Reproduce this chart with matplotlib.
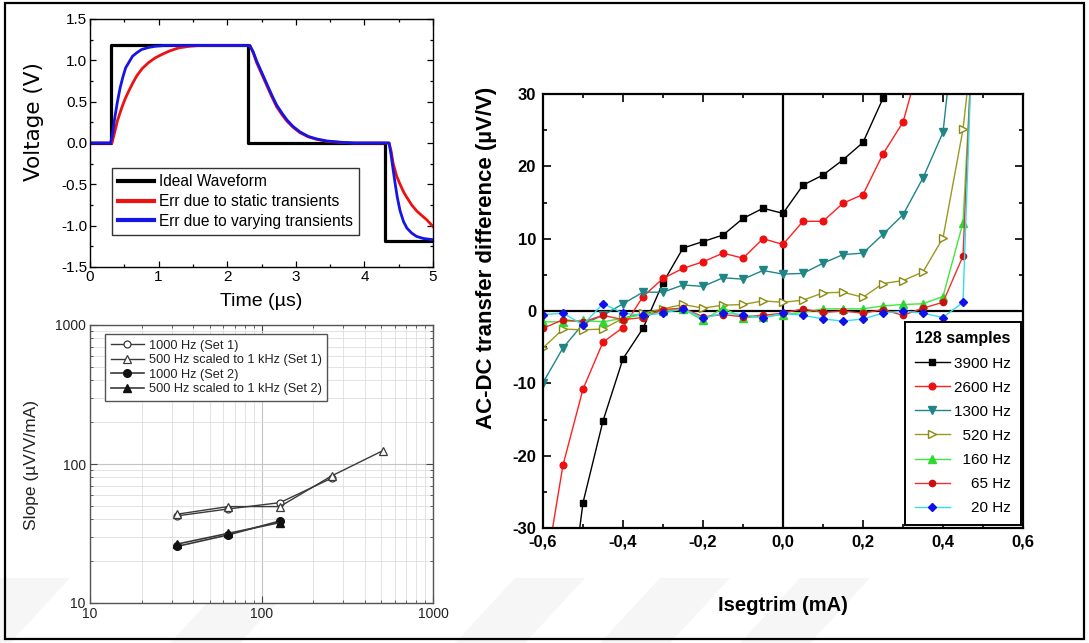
import numpy as np
import matplotlib
matplotlib.use("Agg")
import matplotlib.pyplot as plt
from matplotlib.ticker import MultipleLocator, FuncFormatter, NullFormatter
from matplotlib.patches import Rectangle, Polygon

plt.rcParams["axes.unicode_minus"] = False
SANS = "Liberation Sans"
plt.rcParams["font.family"] = [SANS, "DejaVu Sans"]

nan = np.nan

# ---------------- waveform panel data (time in us, voltage in V) ----------------
ideal_t = [0.0, 0.30, 0.30, 2.30, 2.30, 4.30, 4.30, 5.0]
ideal_v = [0.0, 0.0, 1.18, 1.18, 0.0, 0.0, -1.18, -1.18]

static_t = [0.0, 0.32, 0.36, 0.40, 0.46, 0.51, 0.56, 0.62, 0.68, 0.76, 0.85, 0.95,
            1.045, 1.15, 1.29, 1.45, 1.60, 2.33, 2.38, 2.43, 2.50, 2.58, 2.65, 2.72,
            2.80, 2.87, 2.96, 3.06, 3.18, 3.30, 3.45, 3.64, 3.85, 4.36, 4.39, 4.42,
            4.47, 4.52, 4.57, 4.62, 4.69, 4.76, 4.84, 4.91, 5.0]
static_v = [0.0, 0.0, 0.13, 0.27, 0.42, 0.53, 0.62, 0.72, 0.81, 0.90, 0.97, 1.03,
            1.07, 1.11, 1.15, 1.17, 1.18, 1.18, 1.09, 0.97, 0.84, 0.69, 0.56, 0.44,
            0.34, 0.265, 0.19, 0.125, 0.075, 0.045, 0.02, 0.008, 0.0, 0.0, -0.10, -0.25,
            -0.40, -0.50, -0.59, -0.66, -0.75, -0.82, -0.88, -0.93, -1.01]

varying_t = [0.0, 0.30, 0.33, 0.36, 0.40, 0.44, 0.48, 0.52, 0.57, 0.62, 0.68, 0.75,
             0.85, 0.95, 1.10, 2.33, 2.38, 2.43, 2.50, 2.58, 2.65, 2.72, 2.80, 2.87,
             2.96, 3.06, 3.18, 3.30, 3.45, 3.64, 3.85, 4.36, 4.39, 4.42, 4.45, 4.48,
             4.52, 4.57, 4.62, 4.69, 4.76, 4.86, 5.0]
varying_v = [0.0, 0.0, 0.12, 0.30, 0.50, 0.67, 0.80, 0.91, 0.98, 1.05, 1.09, 1.13,
             1.155, 1.17, 1.18, 1.18, 1.10, 0.99, 0.86, 0.71, 0.58, 0.46, 0.36, 0.28,
             0.20, 0.135, 0.08, 0.05, 0.025, 0.01, 0.0, 0.0, -0.15, -0.33, -0.50, -0.66,
             -0.82, -0.95, -1.03, -1.09, -1.13, -1.155, -1.17]

# ---------------- slope panel data ----------------
freq_1000_set1 = [32, 64, 128, 256]
slope_1000_set1 = [42.3, 47.5, 52.7, 79.0]
freq_500_set1 = [32, 64, 128, 256, 512]
slope_500_set1 = [43.5, 49.4, 49.4, 82.0, 125.0]
freq_set2 = [32, 64, 128]
slope_1000_set2 = [25.5, 30.9, 38.9]
slope_500_set2 = [26.5, 31.7, 37.9]

# ---------------- AC-DC transfer difference data ----------------
isegtrim = [-0.60, -0.55, -0.50, -0.45, -0.40, -0.35, -0.30, -0.25, -0.20, -0.15, -0.10,
            -0.05, 0.00, 0.05, 0.10, 0.15, 0.20, 0.25, 0.30, 0.35, 0.40, 0.45, 0.50]
d3900 = [nan, -48.0, -26.5, -15.2, -6.6, -2.4, 3.9, 8.7, 9.6, 10.5, 12.8, 14.2, 13.5,
         17.4, 18.8, 20.9, 23.3, 29.4, 40.0, nan, nan, nan, nan]
d2600 = [-38.0, -21.3, -10.8, -4.3, -2.3, 2.0, 4.5, 5.9, 6.8, 8.0, 7.3, 10.0, 9.2,
         12.4, 12.4, 14.9, 16.1, 21.7, 26.1, 36.0, nan, nan, nan]
d1300 = [-9.9, -5.1, -1.8, -0.6, 1.0, 2.6, 2.6, 3.6, 3.4, 4.6, 4.4, 5.6, 5.1,
         5.2, 6.6, 7.8, 8.0, 10.6, 13.3, 18.4, 24.7, 50.0, nan]
d520 = [-5.1, -2.5, -2.6, -2.5, -1.0, -0.3, 0.3, 0.9, 0.4, 0.8, 0.9, 1.4, 1.2,
        1.5, 2.5, 2.6, 1.9, 3.8, 4.2, 5.4, 10.1, 25.1, 50.0]
d160 = [-1.5, -1.5, -1.3, -1.5, -1.0, -0.5, 0.0, 0.3, -1.3, 0.4, -0.9, -0.8, -0.5,
        -0.2, 0.3, 0.3, 0.3, 0.7, 0.9, 1.0, 2.0, 12.2, 65.0]
d65 = [-2.4, -1.2, -1.5, -0.6, -1.2, -0.9, 0.2, 0.4, -0.8, -0.5, -0.8, -0.6, -0.3,
       0.3, -0.2, 0.0, -0.3, 0.2, -0.6, 0.4, 1.2, 7.6, 73.0]
d20 = [-0.5, -0.3, -1.9, 1.0, -0.3, -0.6, -0.3, 0.3, -1.0, -0.3, -0.5, -1.0, -0.3,
       -0.6, -1.1, -1.4, -1.1, -0.3, 0.0, -0.3, -0.9, 1.2, 80.0]
freq_labels = ["3900 Hz", "2600 Hz", "1300 Hz", "520 Hz", "160 Hz", "65 Hz", "20 Hz"]

W, H = 1089, 643
fig = plt.figure(figsize=(W / 100, H / 100), dpi=100)
fig.patch.set_facecolor("white")


def px_box(left, top, right, bottom):
    return [left / W, 1 - bottom / H, (right - left) / W, (bottom - top) / H]


# faint diagonal bands along the bottom edge, kept behind everything else
bg = fig.add_axes([0, 0, 1, 1], zorder=-5)
bg.set_axis_off()
bg.set_xlim(0, W)
bg.set_ylim(H, 0)
for x0 in [-60, 170, 455, 600, 740]:
    pts = [(x0, 643), (x0 + 70, 643), (x0 + 130, 578), (x0 + 60, 578)]
    bg.add_patch(Polygon(pts, closed=True, facecolor="#f6f6f6", edgecolor="none"))
bg.add_patch(Rectangle((5, 3), 1079, 636, fill=False, edgecolor="black", lw=1.6))

# ================= waveform panel =================
ax1 = fig.add_axes(px_box(90, 19, 433, 267))
ax1.plot(ideal_t, ideal_v, color="black", lw=2.3, label="Ideal Waveform")
ax1.plot(static_t, static_v, color="#ee1111", lw=2.0, label="Err due to static transients")
ax1.plot(varying_t, varying_v, color="#1515e6", lw=2.0, label="Err due to varying transients")
ax1.set_xlim(0, 5)
ax1.set_ylim(-1.5, 1.5)
ax1.xaxis.set_major_locator(MultipleLocator(1))
ax1.xaxis.set_minor_locator(MultipleLocator(0.5))
ax1.yaxis.set_major_locator(MultipleLocator(0.5))
ax1.yaxis.set_minor_locator(MultipleLocator(0.25))
ax1.yaxis.set_major_formatter(FuncFormatter(lambda v, p: f"{v:.1f}"))
ax1.tick_params(which="both", direction="in", top=True, right=True, width=0.9)
ax1.tick_params(which="major", length=4, labelsize=11, pad=2)
ax1.tick_params(which="minor", length=2)
for s in ax1.spines.values():
    s.set_linewidth(1.0)
ax1.set_xlabel("Time (µs)", fontsize=14)
ax1.xaxis.set_label_coords(0.5, -0.105)
ax1.set_ylabel("Voltage (V)", family="DejaVu Sans", fontsize=15.5)
ax1.yaxis.set_label_coords(-0.135, 0.585)
leg1 = ax1.legend(loc="lower left", bbox_to_anchor=(0.064, 0.129), borderaxespad=0,
                  fontsize=11.2, frameon=True, fancybox=False,
                  edgecolor="#333333", framealpha=1, handlelength=2.3, handletextpad=0.3,
                  labelspacing=0.3, borderpad=0.4)
leg1.get_frame().set_linewidth(1.0)
for ln in leg1.get_lines():
    ln.set_linewidth(3.0)

# ================= slope panel =================
ax2 = fig.add_axes(px_box(90, 325, 433, 603))
ax2.set_xscale("log")
ax2.set_yscale("log")
ax2.set_xlim(10, 1000)
ax2.set_ylim(10, 1000)
ax2.grid(True, which="major", color="#c4c4c4", lw=0.8)
ax2.grid(True, which="minor", color="#dedede", lw=0.6)
ax2.set_axisbelow(True)
gcol = "#3a3a3a"
ax2.plot(freq_1000_set1, slope_1000_set1, "-o", color=gcol, lw=1.0, ms=5,
         mfc="white", mec=gcol, mew=0.9, label="1000 Hz (Set 1)")
ax2.plot(freq_500_set1, slope_500_set1, "-^", color=gcol, lw=1.0, ms=6,
         mfc="white", mec=gcol, mew=0.9, label="500 Hz scaled to 1 kHz (Set 1)")
ax2.plot(freq_set2, slope_1000_set2, "-o", color=gcol, lw=1.2, ms=5.5,
         mfc="#111111", mec="#111111", label="1000 Hz (Set 2)")
ax2.plot(freq_set2, slope_500_set2, "-^", color=gcol, lw=1.2, ms=5.5,
         mfc="#111111", mec="#111111", label="500 Hz scaled to 1 kHz (Set 2)")
ax2.xaxis.set_major_formatter(FuncFormatter(lambda v, p: f"{v:.0f}"))
ax2.yaxis.set_major_formatter(FuncFormatter(lambda v, p: f"{v:.0f}"))
ax2.xaxis.set_minor_formatter(NullFormatter())
ax2.yaxis.set_minor_formatter(NullFormatter())
ax2.tick_params(which="both", direction="in", top=True, right=True, colors="#444444",
                labelcolor="#222222")
ax2.tick_params(which="major", length=5, labelsize=10, pad=3)
ax2.tick_params(which="minor", length=2.5)
for s in ax2.spines.values():
    s.set_linewidth(1.0)
    s.set_color("#555555")
ax2.set_ylabel("Slope (µV/V/mA)", fontsize=12.5, color="#222222")
ax2.yaxis.set_label_coords(-0.15, 0.496)
leg2 = ax2.legend(loc="upper left", bbox_to_anchor=(0.044, 0.968), borderaxespad=0,
                  fontsize=9.2, frameon=True, fancybox=False, edgecolor="#555555",
                  framealpha=1, handlelength=2.6, handletextpad=0.35, labelspacing=0.2,
                  borderpad=0.45, numpoints=1)
leg2.get_frame().set_linewidth(1.0)
for t in leg2.get_texts():
    t.set_color("#222222")

# ================= AC-DC transfer difference panel =================
ax3 = fig.add_axes(px_box(543, 94, 1023, 528))
ax3.axhline(0, color="black", lw=1.6, zorder=1.5)
ax3.axvline(0, color="black", lw=1.6, zorder=1.5)

series = [
    (d3900, dict(color="#000000", marker="s", mfc="#000000", mec="#000000", ms=4.5)),
    (d2600, dict(color="#ff2020", marker="o", mfc="#ee1010", mec="#ee1010", ms=4.8)),
    (d1300, dict(color="#1f8585", marker="v", mfc="#1f8585", mec="#1f8585", ms=5.5)),
    (d520, dict(color="#9a9a20", marker=">", mfc="white", mec="#8a8a10", ms=5.5, mew=1.0)),
    (d160, dict(color="#3fe83f", marker="^", mfc="#2fd82f", mec="#2fd82f", ms=5.5)),
    (d65, dict(color="#f03030", marker="o", mfc="#cc1010", mec="#cc1010", ms=4.5)),
    (d20, dict(color="#30e0e8", marker="D", mfc="#1010e8", mec="#1010e8", ms=4.5)),
]
for (vals, st), lab in zip(series, freq_labels):
    ax3.plot(isegtrim, vals, lw=1.0, label=lab, zorder=2.5, **st)

ax3.set_xlim(-0.6, 0.6)
ax3.set_ylim(-30, 30)
ax3.xaxis.set_major_locator(MultipleLocator(0.2))
ax3.xaxis.set_minor_locator(MultipleLocator(0.1))
ax3.yaxis.set_major_locator(MultipleLocator(10))
ax3.yaxis.set_minor_locator(MultipleLocator(5))
ax3.xaxis.set_major_formatter(FuncFormatter(lambda v, p: f"{v:.1f}".replace(".", ",").replace("-0,0", "0,0")))
ax3.yaxis.set_major_formatter(FuncFormatter(lambda v, p: f"{v:.0f}"))
ax3.tick_params(which="both", direction="in", top=True, right=True, width=1.2)
ax3.tick_params(which="major", length=6, labelsize=12, pad=5)
ax3.tick_params(which="minor", length=3)
for lab in ax3.get_xticklabels() + ax3.get_yticklabels():
    lab.set_fontweight("bold")
for s in ax3.spines.values():
    s.set_linewidth(1.6)
ax3.set_xlabel("Isegtrim (mA)", fontsize=14.5, fontweight="bold")
ax3.xaxis.set_label_coords(0.5, -0.157)
ax3.set_ylabel("AC-DC transfer difference (µV/V)", fontsize=16, fontweight="bold")
ax3.yaxis.set_label_coords(-0.096, 0.622)

handles, labels = ax3.get_legend_handles_labels()
width_digits = max(len(l.split()[0]) for l in labels)
padded = ["  " * (width_digits - len(l.split()[0])) + l for l in labels]
leg3 = ax3.legend(handles, padded, loc="lower right", bbox_to_anchor=(0.995, 0.008),
                  borderaxespad=0, title="128 samples",
                  title_fontproperties={"weight": "bold", "size": 11.5},
                  fontsize=11, frameon=True, fancybox=False, edgecolor="black",
                  framealpha=1, handlelength=2.3, handletextpad=0.3, labelspacing=0.66,
                  borderpad=0.62, numpoints=1)
leg3.get_frame().set_linewidth(1.4)
leg3.set_zorder(5)

fig.savefig("out.png", dpi=100, facecolor="white")
